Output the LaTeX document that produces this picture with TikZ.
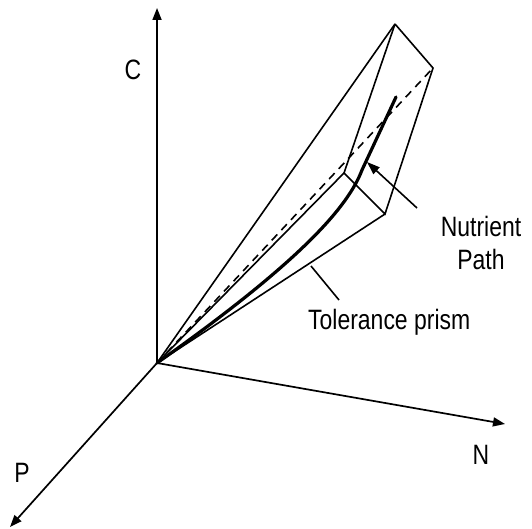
\documentclass[tikz,border=0pt]{standalone}
\usepackage{fontspec}
\setmainfont{Liberation Sans}[FakeStretch=0.82]
\usetikzlibrary{arrows.meta}
\begin{document}
\begin{tikzpicture}[x=1pt,y=-1pt,
  axis/.style={line width=1.7pt,-{Triangle[length=12pt,width=9pt]}},
  edge/.style={line width=1.6pt},
  lbl/.style={inner sep=0pt,font=\fontsize{28}{33}\selectfont},
  every node/.style={inner sep=0pt}]
\useasboundingbox (0,0) rectangle (532,529);
% points
\coordinate (O) at (157,363);
\coordinate (Ct) at (157,8);
\coordinate (Nt) at (505,424);
\coordinate (Pt) at (10,527);
\coordinate (A) at (395,24);
\coordinate (B) at (433,68);
\coordinate (D) at (344,173);
\coordinate (E) at (385,214);
% axes
\draw[axis] (O) -- (Ct);
\draw[axis] (O) -- (Nt);
\draw[axis] (O) -- (Pt);
\node[lbl] (lc) at (133,70) {C};
\node[lbl] (ln) at (481,455) {N};
\node[lbl] (lp) at (22,473) {P};
% prism
\draw[edge] (O) -- (A);
\draw[edge] (O) -- (D);
\draw[edge] (O) -- (E);
\draw[edge,dash pattern=on 8pt off 6pt] (O) -- (B);
\draw[edge] (A) -- (B) -- (E) -- (D) -- (A);
% nutrient path
\coordinate (Q) at (362,170);
\coordinate (R) at (396,97);
\draw[line width=3.2pt,line cap=round] (O) .. controls (300,262) and (348,207) .. (Q) -- (R);
% labels
\node[lbl,align=center] (np) at (481,243) {Nutrient\\Path};
\coordinate (npa) at (417,208);
\coordinate (npb) at (367,162);
\draw[line width=1.6pt,-{Triangle[length=13pt,width=9pt]}] (npa) -- (npb);
\node[lbl,anchor=base west] (tp) at (308,329) {Tolerance prism};
\coordinate (tpa) at (339,300);
\coordinate (tpb) at (311,266);
\draw[line width=1.6pt] (tpa) -- (tpb);
\end{tikzpicture}
\end{document}
